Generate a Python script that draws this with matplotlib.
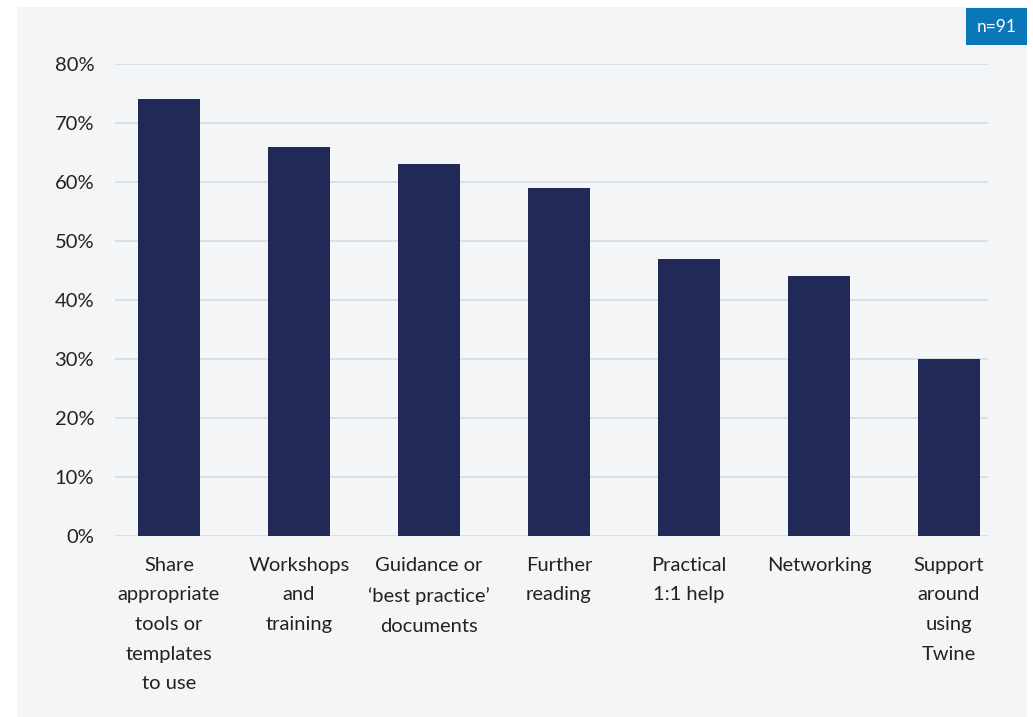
import matplotlib.pyplot as plt
from matplotlib.patches import Rectangle

categories = [
    "Share\nappropriate\ntools or\ntemplates\nto use",
    "Workshops\nand\ntraining",
    "Guidance or\n\u2018best practice\u2019\ndocuments",
    "Further\nreading",
    "Practical\n1:1 help",
    "Networking",
    "Support\naround\nusing\nTwine",
]
values = [74, 66, 63, 59, 47, 44, 30]
yticks = [0, 10, 20, 30, 40, 50, 60, 70, 80]
sample_note = "n=91"

plt.rcParams['font.family'] = ['Lato', 'DejaVu Sans']

W, H = 1033, 717
fig = plt.figure(figsize=(W / 100, H / 100), dpi=100)
fig.patch.set_facecolor('white')

# light panel behind the chart
fig.patches.append(Rectangle((17 / W, 0), (1027 - 17) / W, (717 - 7) / H,
                             transform=fig.transFigure, facecolor='#f4f5f7',
                             edgecolor='none', zorder=-5))
# sample size badge
fig.patches.append(Rectangle((966 / W, 1 - 45 / H), (1027 - 966) / W, 37 / H,
                             transform=fig.transFigure, facecolor='#0a78b8',
                             edgecolor='none', zorder=-4))
fig.text((966 + 1027) / 2 / W, 1 - 27 / H, sample_note, color='white',
         fontsize=12.5, ha='center', va='center')

ax = fig.add_axes([115 / W, 1 - 536 / H, (988 - 115) / W, (536 - 64) / H])
ax.set_zorder(2)
ax.set_facecolor('none')

x = range(len(categories))
ax.bar(x, values, width=0.47, color='#212a57', zorder=3)

ax.set_ylim(0, 80)
ax.set_xlim(-0.415, 6.3)
ax.set_yticks(yticks)
ax.set_yticklabels([f"{v}%" for v in yticks])
ax.set_xticks(list(x))
ax.set_xticklabels(categories, linespacing=1.9)
ax.yaxis.grid(True, color='#d6dde5', linewidth=1.3, zorder=0)
ax.set_axisbelow(True)
ax.tick_params(axis='both', length=0, labelsize=14.5, colors='#222222')
ax.tick_params(axis='y', pad=15)
ax.tick_params(axis='x', pad=15)
for s in ax.spines.values():
    s.set_visible(False)

fig.savefig('out.png', dpi=100)
